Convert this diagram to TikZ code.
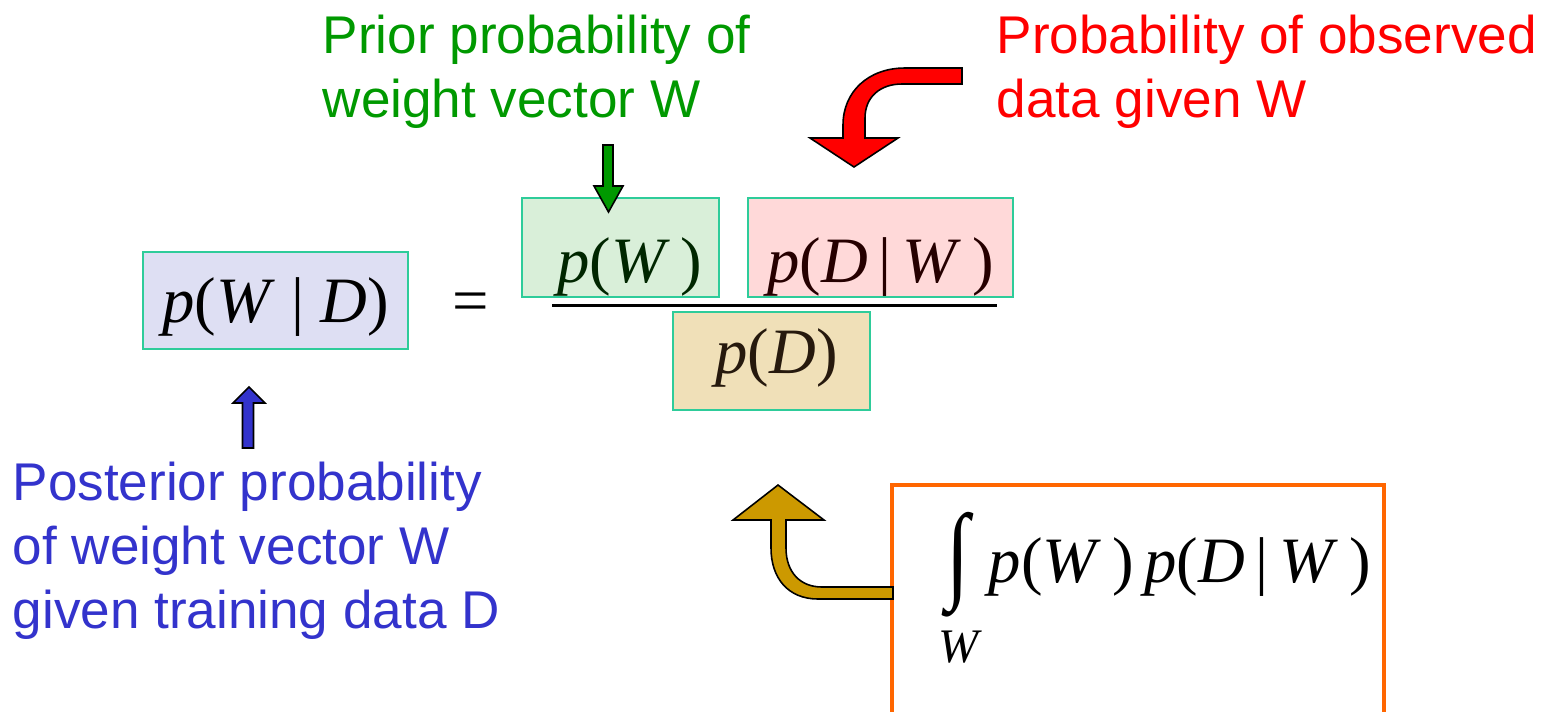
\documentclass[tikz,border=0pt]{standalone}
\usepackage{fontspec}
\setmainfont{Liberation Sans}
\newfontfamily\eqfont{Liberation Serif}
\usetikzlibrary{positioning}
\definecolor{boxline}{RGB}{46,204,154}
\definecolor{lblgreen}{RGB}{0,153,0}
\definecolor{lblblue}{RGB}{51,51,204}
\definecolor{lblred}{RGB}{255,0,0}
\definecolor{goldarrow}{RGB}{204,153,0}
\definecolor{orangeline}{RGB}{255,102,0}
\definecolor{fillblue}{RGB}{222,223,243}
\definecolor{fillgreen}{RGB}{217,239,217}
\definecolor{fillpink}{RGB}{255,217,217}
\definecolor{filltan}{RGB}{240,224,184}
\newcommand{\vv}[1]{\textit{#1}}

\begin{document}
\begin{tikzpicture}[
  x=0.01cm, y=-0.01cm,
  lbl/.style={anchor=north west, align=left, inner sep=0pt, font=\fontsize{15.1}{18.3}\selectfont},
  term/.style={draw=boxline, line width=0.6pt, anchor=base, inner xsep=0pt, inner ysep=0pt,
               font=\eqfont\fontsize{18.4}{20}\selectfont},
  fatarrow/.style={draw=black, line width=0.45pt, line join=miter},
  intframe/.style={draw=orangeline, line width=1.1pt, minimum width=4.92cm, minimum height=3cm}
]
\useasboundingbox (0,0) rectangle (1549,711);
\node[term, fill=fillblue, text=black, minimum width=2.65cm, text height=0.70cm, text depth=0.27cm] (post) at (275.5,322) {\vv{p}(\vv{W} | \vv{D})};
\node[anchor=base, inner sep=0pt, font=\eqfont\fontsize{18.4}{20}\selectfont] (eqsign) at (471,322) {=};
\node[term, fill=fillgreen, text=black!85!green, minimum width=1.97cm, text height=0.84cm, text depth=0.15cm] (prior) at (620.5,282) {\hspace{0.19cm}\vv{p}(\vv{W}\,)};
\node[term, fill=fillpink, text=black!85!red, minimum width=2.65cm, text height=0.84cm, text depth=0.15cm] (like) at (880.5,282) {\vv{p}(\vv{D}\,|\,\vv{W}\,)};
\node[term, fill=filltan, text=black!80!brown, minimum width=1.97cm, text height=0.61cm, text depth=0.37cm] (evid) at (771.5,373) {\hspace{0.1cm}\vv{p}(\vv{D})};
\draw[line width=0.85pt] (552,305) -- (997,305);
\node[intframe] (sumframe) at (1138,635) {};
\node[inner sep=0pt, font=\eqfont\fontsize{18.4}{20}\selectfont] (intsign) at (958,565) {\scalebox{1.3}[1.65]{∫}};
\node[anchor=base, inner sep=0pt, font=\eqfont\itshape\fontsize{13.7}{15}\selectfont] (intvar) at (959,662) {W};
\node[anchor=base west, inner sep=0pt, font=\eqfont\fontsize{18.4}{20}\selectfont] (sumexpr) at (988,582) {\vv{p}(\vv{W}\,)\,\vv{p}(\vv{D}\,|\,\vv{W}\,)};
\node[lbl, text=lblgreen] (priorlbl) at (322,14) {Prior probability of\\weight vector W};
\node[lbl, text=lblred] (likelbl) at (996,14) {Probability of observed\\data given W};
\node[lbl, text=lblblue] (postlbl) at (12,461) {Posterior probability\\of weight vector W\\given training data D};
\draw[fatarrow, fill=lblgreen] (603,145) -- (613,145) -- (613,186) -- (623,186) -- (608.5,212) -- (594,186) -- (603,186) -- cycle;
\draw[fatarrow, fill=lblblue] (249,387) -- (265,403) -- (253.5,403) -- (253.5,448) -- (242.5,448) -- (242.5,403) -- (233,403) -- cycle;
\draw[fatarrow, fill=lblred] (962,68) -- (905,68) .. controls (868,68) and (843,92) .. (843,125) -- (843,138) -- (810,138) -- (854,167) -- (898,138) -- (865,138) -- (865,118) .. controls (865,97) and (880,84) .. (902,84) -- (962,84) -- cycle;
\draw[fatarrow, fill=goldarrow] (778,485) -- (824,520) -- (786,520) -- (786,548) .. controls (786,572) and (800,587) .. (822,587) -- (893,587) -- (893,599) -- (818,599) .. controls (788,599) and (771,578) .. (771,548) -- (771,520) -- (733,520) -- cycle;
\end{tikzpicture}
\end{document}
